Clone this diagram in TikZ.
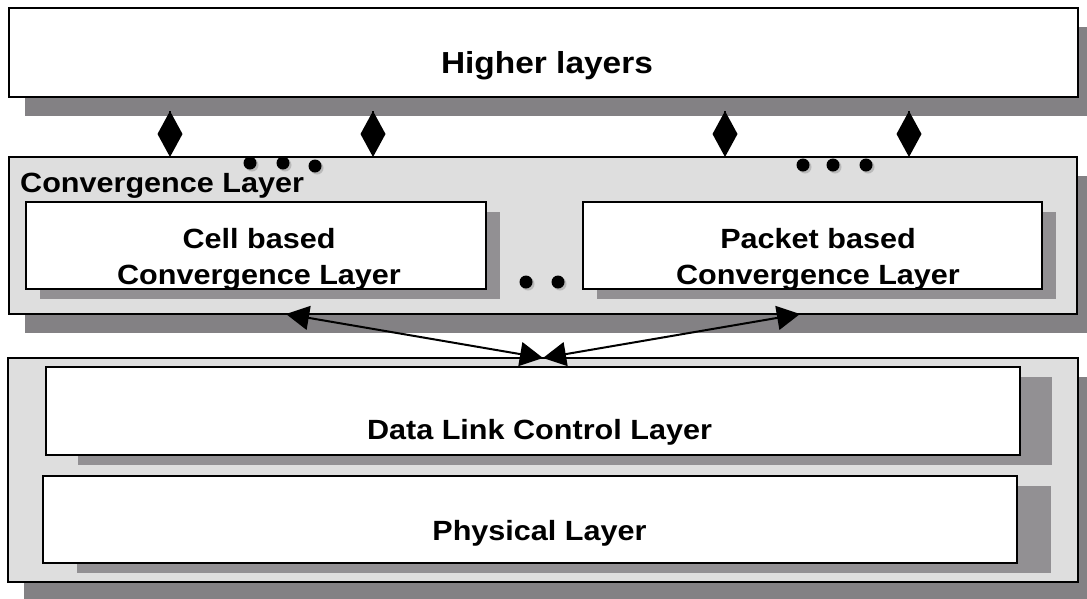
\documentclass[tikz,border=0pt]{standalone}
\usepackage{fontspec}
\setmainfont{Liberation Sans}
\usetikzlibrary{positioning,arrows.meta,shadows}
\definecolor{panelgray}{RGB}{222,222,222}
\definecolor{shadowdark}{RGB}{131,129,132}
\definecolor{shadowlight}{RGB}{146,144,147}
\newcommand{\widen}[1]{\scalebox{1.1}[1]{#1}}

\begin{document}
\begin{tikzpicture}[
		x=1pt, y=-1pt,
		panel/.style={
			rectangle,
			draw,
			line width=2.4pt,
			fill=panelgray,
			inner sep=0pt,
			outer sep=0pt,
			general shadow={fill=shadowdark, shadow xshift=16pt, shadow yshift=-19pt}
			},
		layer/.style={
			rectangle,
			draw,
			line width=2.4pt,
			fill=white,
			inner sep=0pt,
			outer sep=0pt,
			general shadow={fill=shadowlight, shadow xshift=#1, shadow yshift=-10pt}
			},
		layer/.default=13.5pt,
		layertext/.style={
			font=\fontsize{27.8}{36}\selectfont\bfseries,
			align=center,
			inner sep=0pt
			},
		dot/.style={
			circle,
			fill=black,
			minimum size=13pt,
			inner sep=0pt,
			general shadow={fill=gray!55, shadow xshift=2pt, shadow yshift=-2pt}
			},
		diamondlink/.style={
			draw,
			line width=2pt,
			-{Diamond[length=46pt,width=25pt]},
			shorten <=14pt
			},
		line/.style={
			draw,
			line width=2pt,
			{Triangle[length=23pt,width=24pt]}-{Triangle[length=23pt,width=24pt]}
			}]
	    \useasboundingbox (0,0) rectangle (1087,598);

	    % Place nodes
	    \node [panel, fill=white, minimum width=1069pt, minimum height=89pt] (higher) at (543.5,52.5) {};
	    \node [panel, minimum width=1068pt, minimum height=157pt] (conv) at (543,235.5) {};
	    \node [layer, minimum width=460pt, minimum height=87pt] (cell) at (256,245.5) {};
	    \node [layer, minimum width=459pt, minimum height=87pt] (packet) at (812.5,245.5) {};
	    \node [panel, minimum width=1070pt, minimum height=224pt] (lower) at (543,470) {};
	    \node [layer=31.5pt, minimum width=974pt, minimum height=88pt] (dlc) at (533,411) {};
	    \node [layer=34pt, minimum width=974pt, minimum height=87pt] (phys) at (530,519.5) {};

	    % Texts
	    \node [layertext, font=\fontsize{30.4}{34}\selectfont\bfseries, anchor=base] (highertxt) at (547,73) {\widen{Higher layers}};
	    \node [layertext, anchor=base west] (convtxt) at (20,192) {\widen{Convergence Layer}};
	    \node [layertext] (celltxt) at (259,259.8) {\widen{Cell based}\\\widen{Convergence Layer}};
	    \node [layertext] (packettxt) at (818,259.8) {\widen{Packet based}\\\widen{Convergence Layer}};
	    \node [layertext, anchor=base] (dlctxt) at (539.5,439) {\widen{Data Link Control Layer}};
	    \node [layertext, anchor=base] (phystxt) at (539.5,540) {\widen{Physical Layer}};

	    % Dots
	    \node [dot] (dota) at (250,163) {};
	    \node [dot] (dotb) at (283,163) {};
	    \node [dot] (dotc) at (315,166) {};
	    \node [dot] (dotd) at (803,165) {};
	    \node [dot] (dote) at (833,165) {};
	    \node [dot] (dotf) at (866,165) {};
	    \node [dot] (dotg) at (526,282) {};
	    \node [dot] (doth) at (558,282) {};

	    % Draw edges
	    \foreach \x in {170,373,725,909}
	        \path [diamondlink] (higher.south -| \x,0) -- (conv.north -| \x,0);
	    \path [line] ([xshift=277pt]conv.south west) -- ([xshift=535pt]lower.north west);
	    \path [line] ([xshift=791pt]conv.south west) -- ([xshift=535pt]lower.north west);
	\end{tikzpicture}
\end{document}
